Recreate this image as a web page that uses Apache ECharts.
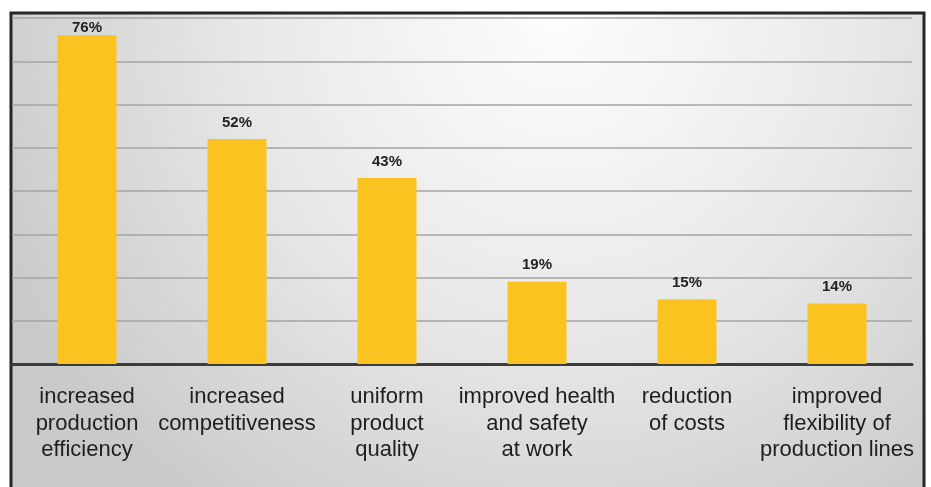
<!DOCTYPE html>
<html><head><meta charset="utf-8">
<script src="https://cdn.jsdelivr.net/npm/echarts@6/dist/echarts.min.js"></script>
<style>html,body{margin:0;padding:0;background:#fff}#c{width:931px;height:487px}</style>
</head><body><div id="c"></div>
<script>
const categories = [
  'increased\nproduction\nefficiency',
  'increased\ncompetitiveness',
  'uniform\nproduct\nquality',
  'improved health\nand safety\nat work',
  'reduction\nof costs',
  'improved\nflexibility of\nproduction lines'
];
const values = [76, 52, 43, 19, 15, 14];

const chart = echarts.init(document.getElementById('c'), null, {renderer: 'canvas'});
chart.setOption({
  backgroundColor: '#ffffff',
  animation: false,
  graphic: [{
    type: 'rect', z: -10, silent: true,
    shape: {x: 11, y: 13, width: 913, height: 480},
    style: {
      fill: {type: 'radial', x: 0.6, y: 0.02, r: 1.25, colorStops: [
        {offset: 0, color: '#fdfdfd'},
        {offset: 0.5, color: '#e9e9e9'},
        {offset: 1, color: '#cacaca'}
      ]},
      stroke: '#262626', lineWidth: 3
    }
  }],
  grid: {left: 12, right: 19, top: 18, bottom: 123, containLabel: false},
  xAxis: {
    type: 'category', data: categories,
    axisLine: {lineStyle: {color: '#3c3c3c', width: 3}},
    axisTick: {show: false},
    axisLabel: {interval: 0, color: '#1e1e1e', fontFamily: 'Liberation Sans, Arial, sans-serif',
      fontSize: 22, lineHeight: 26.5, margin: 20}
  },
  yAxis: {
    type: 'value', min: 0, max: 80, interval: 10,
    axisLine: {show: false}, axisTick: {show: false}, axisLabel: {show: false},
    splitLine: {lineStyle: {color: '#a4a4a4', width: 1.5}}
  },
  series: [{
    type: 'bar', data: values.map((v, i) => i === 0 ? {value: v, label: {distance: 0}} : v),
    barWidth: 59,
    itemStyle: {color: '#fbc31f'},
    label: {show: true, position: 'top', distance: 9, formatter: '{c}%',
      color: '#222', fontWeight: 'bold', fontSize: 15, fontFamily: 'Liberation Sans, Arial, sans-serif'}
  }]
});
</script></body></html>
